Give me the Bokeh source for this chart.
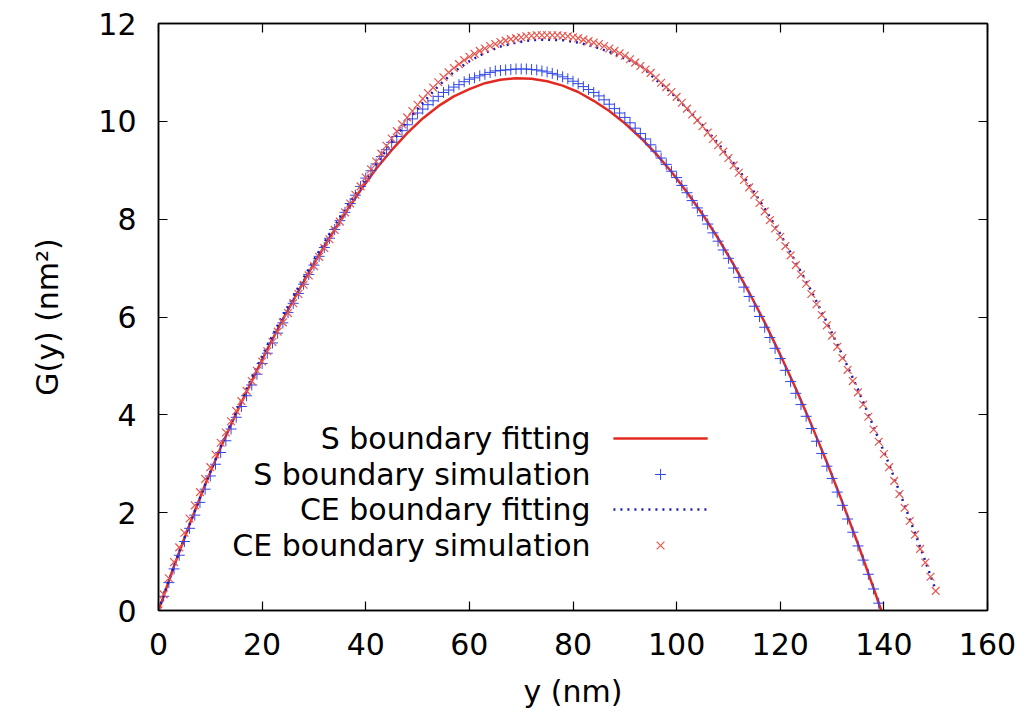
from bokeh.plotting import figure
from bokeh.models import FixedTicker, LinearAxis, Range1d
from bokeh.embed import file_html
from bokeh.resources import INLINE
from bokeh.core.properties import value

# ---------------- data ----------------
x_ticks = [0, 20, 40, 60, 80, 100, 120, 140, 160]
y_ticks = [0, 2, 4, 6, 8, 10, 12]

s_fit_x = list(range(0, 139, 3)) + [139.5]
s_fit_y = [0, 0.91, 1.76, 2.57, 3.33, 4.03, 4.69, 5.34, 5.95, 6.53, 7.09, 7.62, 8.12,
           8.59, 9.03, 9.41, 9.76, 10.06, 10.31, 10.51, 10.66, 10.78, 10.85, 10.88,
           10.87, 10.82, 10.73, 10.60, 10.42, 10.21, 9.96, 9.67, 9.34, 8.97, 8.55,
           8.10, 7.61, 7.07, 6.50, 5.89, 5.23, 4.54, 3.80, 3.03, 2.21, 1.36, 0.46, 0]

s_sim_x = list(range(0, 140))
s_sim_y = [0, 0.29, 0.57, 0.85, 1.13, 1.41,
           1.68, 1.95, 2.21, 2.48, 2.75,
           2.99, 3.23, 3.47, 3.71, 3.95,
           4.17, 4.39, 4.61, 4.83, 5.05,
           5.26, 5.47, 5.67, 5.88, 6.09,
           6.28, 6.48, 6.67, 6.87, 7.06,
           7.24, 7.42, 7.61, 7.79, 7.97,
           8.14, 8.32, 8.49, 8.67, 8.84,
           8.99, 9.13, 9.28, 9.42, 9.57,
           9.69, 9.81, 9.93, 10.05, 10.17,
           10.25, 10.34, 10.42, 10.51, 10.59,
           10.64, 10.70, 10.75, 10.81, 10.86,
           10.89, 10.93, 10.96, 11.00, 11.03,
           11.04, 11.05, 11.06, 11.07, 11.07,
           11.07, 11.06, 11.05, 11.03, 11.01,
           10.98, 10.95, 10.91, 10.87, 10.82,
           10.77, 10.71, 10.65, 10.59, 10.52,
           10.44, 10.35, 10.26, 10.17, 10.08,
           9.97, 9.86, 9.75, 9.64, 9.52,
           9.39, 9.25, 9.12, 8.98, 8.85,
           8.69, 8.54, 8.38, 8.23, 8.07,
           7.90, 7.72, 7.55, 7.37, 7.20,
           7.00, 6.81, 6.61, 6.42, 6.22,
           6.01, 5.79, 5.58, 5.36, 5.15,
           4.91, 4.68, 4.44, 4.21, 3.97,
           3.72, 3.46, 3.21, 2.95, 2.70,
           2.42, 2.15, 1.87, 1.60, 1.32,
           1.03, 0.74, 0.44, 0.15]

ce_fit_x = list(range(0, 151, 3))
ce_fit_y = [0, 0.91, 1.76, 2.57, 3.35, 4.07, 4.76, 5.42, 6.03, 6.61, 7.17, 7.70, 8.20,
            8.66, 9.12, 9.57, 10.00, 10.38, 10.72, 11.01, 11.23, 11.40, 11.53, 11.61,
            11.66, 11.67, 11.66, 11.61, 11.53, 11.42, 11.28, 11.15, 10.85, 10.58,
            10.26, 9.92, 9.55, 9.15, 8.71, 8.22, 7.70, 7.12, 6.53, 5.89, 5.22, 4.52,
            3.76, 2.99, 2.15, 1.30, 0.42]

ce_sim_x = list(range(0, 151))
ce_sim_y = [0, 0.33, 0.66, 0.99, 1.29, 1.59,
            1.88, 2.15, 2.42, 2.69, 2.93,
            3.19, 3.43, 3.64, 3.87, 4.08,
            4.28, 4.49, 4.69, 4.90, 5.09,
            5.30, 5.49, 5.70, 5.89, 6.08,
            6.28, 6.47, 6.66, 6.85, 7.04,
            7.23, 7.41, 7.59, 7.78, 7.95,
            8.14, 8.32, 8.50, 8.67, 8.85,
            9.02, 9.18, 9.34, 9.50, 9.65,
            9.80, 9.94, 10.08, 10.21, 10.34,
            10.46, 10.58, 10.69, 10.80, 10.90,
            11.00, 11.09, 11.17, 11.25, 11.32,
            11.38, 11.44, 11.49, 11.54, 11.58,
            11.62, 11.65, 11.68, 11.70, 11.72,
            11.74, 11.75, 11.76, 11.76, 11.76,
            11.76, 11.76, 11.75, 11.74, 11.72,
            11.70, 11.67, 11.64, 11.61, 11.58,
            11.54, 11.49, 11.44, 11.39, 11.34,
            11.27, 11.20, 11.13, 11.06, 10.99,
            10.89, 10.79, 10.70, 10.60, 10.50,
            10.38, 10.26, 10.14, 10.02, 9.90,
            9.77, 9.64, 9.51, 9.38, 9.25,
            9.10, 8.95, 8.80, 8.65, 8.50,
            8.33, 8.16, 7.98, 7.81, 7.64,
            7.45, 7.26, 7.06, 6.87, 6.68,
            6.47, 6.26, 6.04, 5.83, 5.62,
            5.39, 5.16, 4.92, 4.69, 4.46,
            4.21, 3.96, 3.70, 3.45, 3.20,
            2.93, 2.65, 2.38, 2.10, 1.83,
            1.55, 1.26, 0.98, 0.69, 0.40]

legend_labels = ["S boundary fitting", "S boundary simulation",
                 "CE boundary fitting", "CE boundary simulation"]

# ---------------- styles / layout ----------------
FONT = "DejaVu Sans"
RED = "#e32a22"
PLUS_BLUE = "#3148e8"
DOT_BLUE = "#1c1cb4"
X_RED = "#e8564e"

p = figure(frame_width=829, frame_height=587,
           x_range=Range1d(0, 160), y_range=Range1d(0, 12),
           output_backend="svg", toolbar_location=None,
           min_border_left=158, min_border_top=23,
           min_border_right=36, min_border_bottom=100,
           background_fill_color="white", border_fill_color="white")
p.grid.visible = False
p.outline_line_color = "black"
p.outline_line_width = 1.5


def style_axis(ax, ticks, labels=True):
    ax.ticker = FixedTicker(ticks=ticks)
    ax.major_tick_in = 9
    ax.major_tick_out = 0
    ax.minor_tick_line_color = None
    ax.axis_line_color = "black"
    ax.axis_line_width = 1.5
    ax.major_tick_line_color = "black"
    ax.major_tick_line_width = 1.2
    ax.major_label_text_font = FONT
    if labels:
        ax.major_label_text_font_size = "30px"
        ax.major_label_text_color = "black"
    else:
        ax.major_label_text_font_size = "1px"
        ax.major_label_text_color = None
        ax.major_label_text_alpha = 0
        ax.major_label_standoff = 0
    ax.axis_label_text_font = FONT
    ax.axis_label_text_font_size = "30px"
    ax.axis_label_text_font_style = "normal"
    ax.axis_label_text_color = "black"


style_axis(p.xaxis[0], x_ticks)
style_axis(p.yaxis[0], y_ticks)
p.xaxis[0].axis_label = "y (nm)"
p.yaxis[0].axis_label = "G(y) (nm²)"
p.xaxis[0].major_label_standoff = 22
p.xaxis[0].axis_label_standoff = 16
p.yaxis[0].major_label_standoff = 22
p.yaxis[0].axis_label_standoff = 30

top_ax = LinearAxis()
style_axis(top_ax, x_ticks, labels=False)
p.add_layout(top_ax, "above")
right_ax = LinearAxis()
style_axis(right_ax, y_ticks, labels=False)
p.add_layout(right_ax, "right")

# ---------------- series ----------------
p.line(s_fit_x, s_fit_y, line_color=RED, line_width=2.5)
p.scatter(s_sim_x, s_sim_y, marker="cross", size=11, line_color=PLUS_BLUE, line_width=1)
p.line(ce_fit_x, ce_fit_y, line_color=DOT_BLUE, line_width=2.5, line_dash="2 5")
p.scatter(ce_sim_x, ce_sim_y, marker="x", size=11, line_color=X_RED, line_width=1.2)

# ---------------- legend (gnuplot style: text left, sample right) ----------------
leg_text_x = 83.4
leg_x0, leg_x1, leg_xm = 87.8, 106.0, 96.9
leg_rows = [3.516, 2.78, 2.065, 1.329]

p.text(x=[leg_text_x] * 4, y=leg_rows, text=legend_labels,
       text_align="right", text_baseline="middle",
       text_font=value(FONT), text_font_size="30px", text_color="black")
p.line([leg_x0, leg_x1], [leg_rows[0]] * 2, line_color=RED, line_width=2.5)
p.scatter([leg_xm], [leg_rows[1]], marker="cross", size=11, line_color=PLUS_BLUE, line_width=1)
p.line([leg_x0, leg_x1], [leg_rows[2]] * 2, line_color=DOT_BLUE, line_width=2.5, line_dash="2 5")
p.scatter([leg_xm], [leg_rows[3]], marker="x", size=11, line_color=X_RED, line_width=1.2)

open("out.html", "w").write(file_html(p, INLINE))
